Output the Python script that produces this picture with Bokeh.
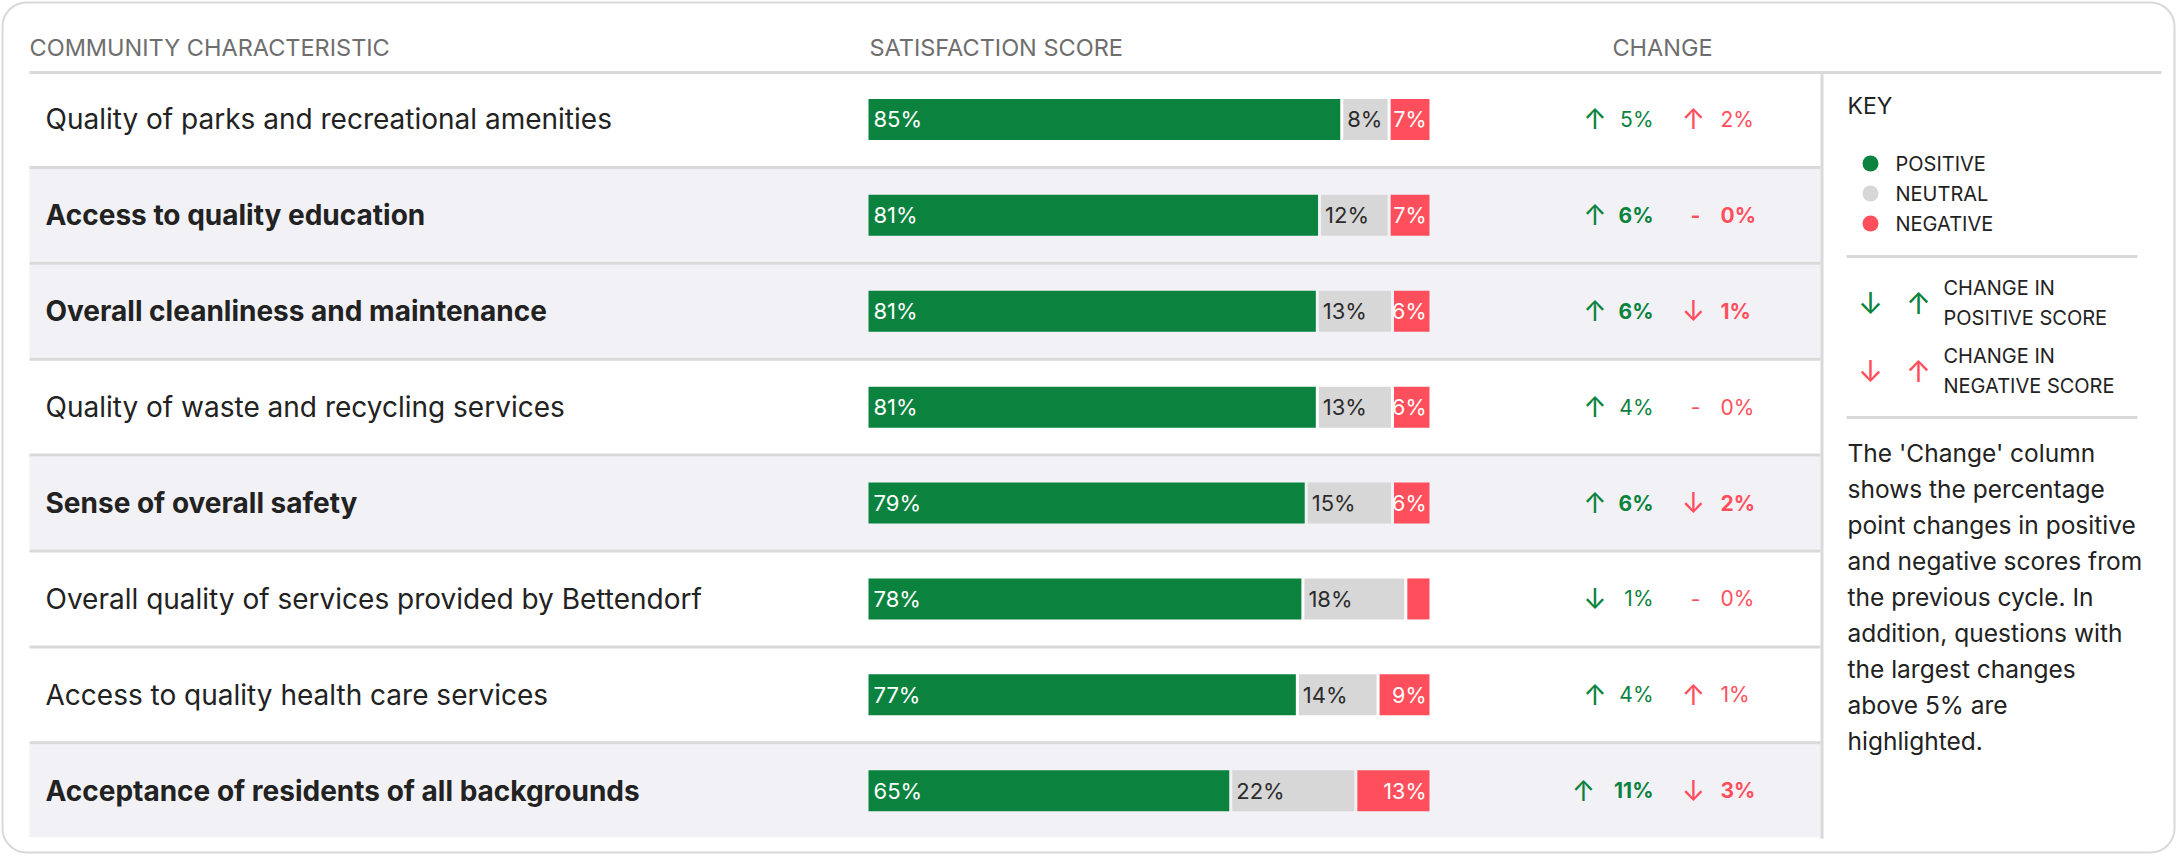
from bokeh.plotting import figure
from bokeh.models import ColumnDataSource, Range1d
from bokeh.core.properties import value
from bokeh.embed import file_html
from bokeh.resources import INLINE

# ---------------- data ----------------
categories = [
    "Quality of parks and recreational amenities",
    "Access to quality education",
    "Overall cleanliness and maintenance",
    "Quality of waste and recycling services",
    "Sense of overall safety",
    "Overall quality of services provided by Bettendorf",
    "Access to quality health care services",
    "Acceptance of residents of all backgrounds",
]
positive = [85, 81, 81, 81, 79, 78, 77, 65]
neutral = [8, 12, 13, 13, 15, 18, 14, 22]
negative = [7, 7, 6, 6, 6, 4, 9, 13]
pos_change = [5, 6, 6, 4, 6, -1, 4, 11]
neg_change = [2, 0, -1, 0, -2, 0, 1, -3]

headers = ["COMMUNITY CHARACTERISTIC", "SATISFACTION SCORE", "CHANGE"]
key_items = ["POSITIVE", "NEUTRAL", "NEGATIVE"]
key_change = [["CHANGE IN", "POSITIVE SCORE"], ["CHANGE IN", "NEGATIVE SCORE"]]
note_lines = [
    "The 'Change' column",
    "shows the percentage",
    "point changes in positive",
    "and negative scores from",
    "the previous cycle. In",
    "addition, questions with",
    "the largest changes",
    "above 5% are",
    "highlighted.",
]

# ---------------- style ----------------
GREEN = "#0b833f"
RED = "#ff4f5c"
NEUTRAL = "#d7d7d7"
ROW_BG = "#f2f2f6"
LINE = "#d9d9d9"
TEXT = "#222222"
HEAD = "#6e6e6e"
FONT = value("Inter")

W, H = 2176, 854
ROW_TOP, PITCH = 71.0, 95.9
BAR_X0, PX_PER_PCT = 868.0, 5.55
GAP = 3.0 / PX_PER_PCT
CHG_FS = 21
LABEL_MIN = 5          # segments below this share get no label
MIN_LABELLED = 6.4     # labelled segments keep room for their text (like a CSS min-width)

n = len(categories)
y_c = [ROW_TOP + (i + 0.5) * PITCH for i in range(n)]
highlight = [abs(a) > 5 or abs(b) > 5 for a, b in zip(pos_change, neg_change)]
styles = ["bold" if h else "normal" for h in highlight]


def arrow(v):
    return "\u2191" if v > 0 else ("\u2193" if v < 0 else "-")


p = figure(width=W, height=H, x_range=Range1d(0, W), y_range=Range1d(H, 0),
           x_axis_location=None, y_axis_location=None, toolbar_location=None,
           output_backend="svg", min_border=0, outline_line_color=None)
p.extra_x_ranges = {"pct": Range1d(-BAR_X0 / PX_PER_PCT, (W - BAR_X0) / PX_PER_PCT)}
p.grid.visible = False
p.background_fill_color = "white"
p.border_fill_color = "white"

# card
p.quad(left=2, right=W - 2, top=2, bottom=H - 2, fill_color="white",
       line_color=LINE, line_width=2, border_radius=24)

# row backgrounds
hl_top = [ROW_TOP + i * PITCH + 1.5 for i in range(n) if highlight[i]]
hl_bot = [ROW_TOP + (i + 1) * PITCH - 1.5 for i in range(n) if highlight[i]]
p.quad(left=29, right=1820, top=hl_top, bottom=hl_bot, fill_color=ROW_BG, line_color=None)

# dividers
div_y = [ROW_TOP + (i + 1) * PITCH for i in range(n - 1)]
p.segment(x0=29, x1=1820, y0=div_y, y1=div_y, line_color=LINE, line_width=3)
p.segment(x0=29, x1=2161, y0=72, y1=72, line_color=LINE, line_width=3)
p.segment(x0=1821.5, x1=1821.5, y0=72, y1=ROW_TOP + n * PITCH, line_color=LINE, line_width=3)

# headers
p.text(x=[29, 869], y=[47, 47], text=headers[:2], text_font=FONT, text_font_size="23.5px",
       text_color=HEAD, text_align="left", text_baseline="middle")
p.text(x=[1662], y=[47], text=headers[2:], text_font=FONT, text_font_size="23.5px",
       text_color=HEAD, text_align="center", text_baseline="middle")

# row labels
p.text(x=45, y="y", text="t", text_font_style="s",
       source=ColumnDataSource(dict(y=y_c, t=categories, s=styles)),
       text_font=FONT, text_font_size="28px", text_color=TEXT,
       text_align="left", text_baseline="middle")

# stacked bars (3px gaps between segments); labelled negative segments keep room for text
neg_w = [max(v, MIN_LABELLED) if v >= LABEL_MIN else v for v in negative]
pos_w = [a - (w - c) for a, w, c in zip(positive, neg_w, negative)]
pos_l = [0.0] * n
pos_r = [float(a) for a in pos_w]
neu_l = [a + GAP for a in pos_w]
neu_r = [a + b + GAP for a, b in zip(pos_w, neutral)]
neg_l = [a + b + 2 * GAP for a, b in zip(pos_w, neutral)]
neg_r = [a + b + c + 2 * GAP for a, b, c in zip(pos_w, neutral, neg_w)]
for l, r, c in [(pos_l, pos_r, GREEN), (neu_l, neu_r, NEUTRAL), (neg_l, neg_r, RED)]:
    p.hbar(y=y_c, left=l, right=r, height=41, fill_color=c, line_color=None, x_range_name="pct")

# bar labels
p.text(x=pos_l, y=y_c, text=[f"{v}%" for v in positive], x_range_name="pct", x_offset=5,
       text_font=FONT, text_font_size="22px", text_color="white",
       text_align="left", text_baseline="middle")
p.text(x=neu_l, y=y_c, text=[f"{v}%" for v in neutral], x_range_name="pct", x_offset=4,
       text_font=FONT, text_font_size="22px", text_color="#2b2b2b",
       text_align="left", text_baseline="middle")
neg_show = [i for i in range(n) if negative[i] >= LABEL_MIN]
p.text(x=[neg_r[i] for i in neg_show], y=[y_c[i] for i in neg_show],
       text=[f"{negative[i]}%" for i in neg_show], x_range_name="pct", x_offset=-3,
       text_font=FONT, text_font_size="21.5px", text_color="white",
       text_align="right", text_baseline="middle")

# change column: positive (right-aligned group) and negative (left-aligned group)
g_num = [f"{abs(v)}%" for v in pos_change]
g_arrow_x = [1653 - 28 - CHG_FS * (0.55 * (len(s) - 1) + 0.9) for s in g_num]
p.text(x=1653, y="y", text="t", text_font_style="s",
       source=ColumnDataSource(dict(y=y_c, s=styles, t=g_num)),
       text_font=FONT, text_font_size=f"{CHG_FS}px", text_color=GREEN,
       text_align="right", text_baseline="middle")
p.text(x=g_arrow_x, y=y_c, text=[arrow(v) for v in pos_change],
       text_font=FONT, text_font_size="28px", text_color=GREEN,
       text_align="center", text_baseline="middle")

r_arrow_rows = [i for i in range(n) if neg_change[i] != 0]
r_dash_rows = [i for i in range(n) if neg_change[i] == 0]
p.text(x=1693, y=[y_c[i] for i in r_arrow_rows], text=[arrow(neg_change[i]) for i in r_arrow_rows],
       text_font=FONT, text_font_size="28px", text_color=RED,
       text_align="center", text_baseline="middle")
p.text(x=1695, y=[y_c[i] for i in r_dash_rows], text=[arrow(neg_change[i]) for i in r_dash_rows],
       text_font_style=[styles[i] for i in r_dash_rows],
       text_font=FONT, text_font_size=f"{CHG_FS}px", text_color=RED,
       text_align="center", text_baseline="middle")
p.text(x=1720, y="y", text="t", text_font_style="s",
       source=ColumnDataSource(dict(y=y_c, s=styles, t=[f"{abs(v)}%" for v in neg_change])),
       text_font=FONT, text_font_size=f"{CHG_FS}px", text_color=RED,
       text_align="left", text_baseline="middle")

# key panel
p.text(x=[1847], y=[105], text=["KEY"], text_font=FONT, text_font_size="23px",
       text_color=TEXT, text_align="left", text_baseline="middle")
key_y = [163, 193, 223]
p.scatter(x=[1870] * 3, y=key_y, size=16, fill_color=[GREEN, NEUTRAL, RED], line_color=None)
p.text(x=[1895] * 3, y=key_y, text=key_items, text_font=FONT, text_font_size="20px",
       text_color=TEXT, text_align="left", text_baseline="middle")
p.segment(x0=[1846, 1846], x1=[2137, 2137], y0=[256, 417], y1=[256, 417],
          line_color=LINE, line_width=3)
p.text(x=[1870, 1918, 1870, 1918], y=[302, 302, 370, 370],
       text=["\u2193", "\u2191", "\u2193", "\u2191"], text_font=FONT, text_font_size="30px",
       text_color=[GREEN, GREEN, RED, RED], text_align="center", text_baseline="middle")
p.text(x=[1943] * 4, y=[287, 317, 355, 385],
       text=key_change[0] + key_change[1], text_font=FONT, text_font_size="20px",
       text_color=TEXT, text_align="left", text_baseline="middle")
note_y = [452 + i * 36 for i in range(len(note_lines))]
p.text(x=[1847] * len(note_lines), y=note_y, text=note_lines, text_font=FONT,
       text_font_size="24.5px", text_color=TEXT, text_align="left", text_baseline="middle")

open("out.html", "w").write(file_html(p, INLINE))
